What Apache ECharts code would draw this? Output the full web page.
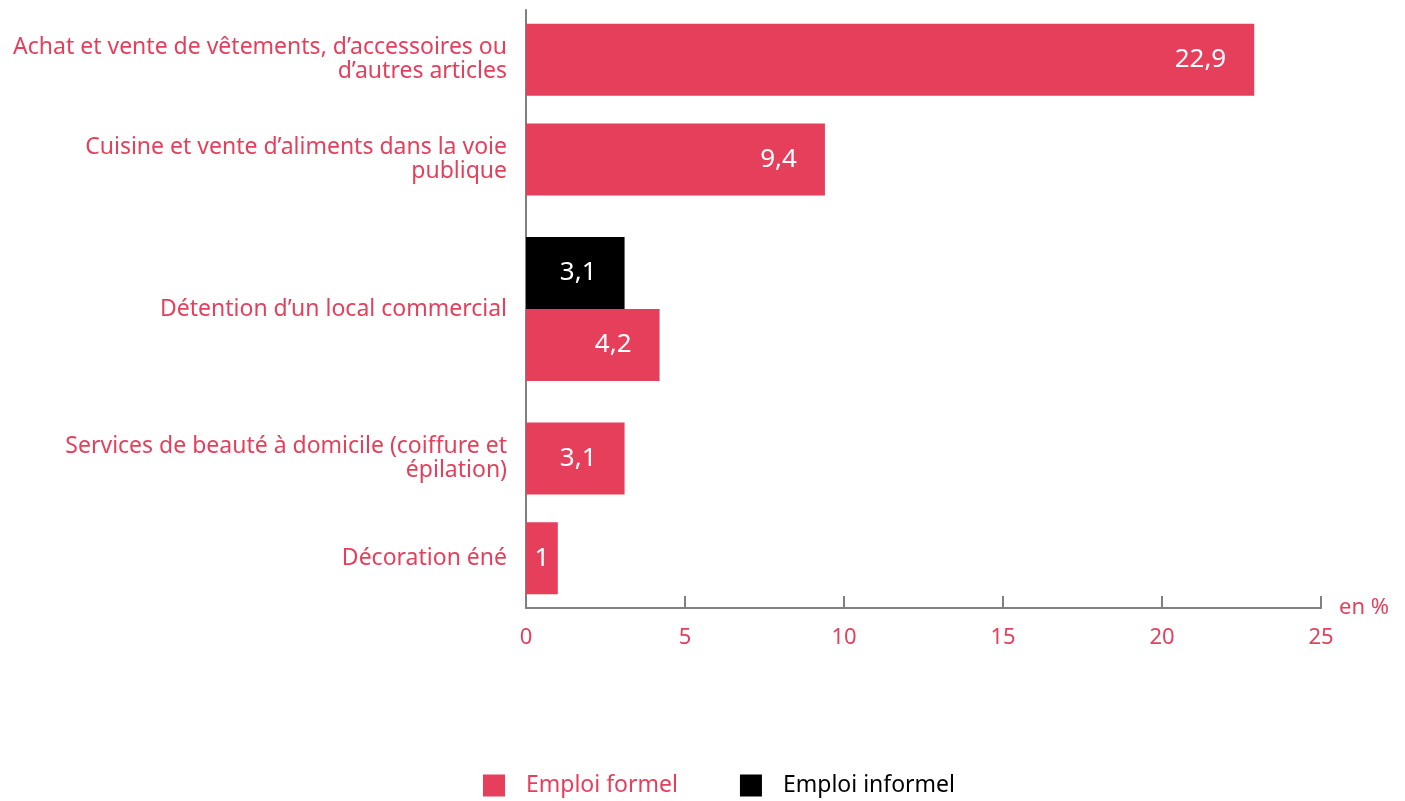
<!DOCTYPE html>
<html>
<head>
<meta charset="utf-8">
<script src="https://cdn.jsdelivr.net/npm/echarts@6/dist/echarts.min.js"></script>
<style>
  html, body { margin: 0; padding: 0; background: #ffffff; }
  #chart { width: 1405px; height: 801px; }
</style>
</head>
<body>
<div id="chart"></div>
<script>
// Activités et part des emplois (en %)
const categories = [
  "Achat et vente de vêtements, d’accessoires ou\nd’autres articles",
  "Cuisine et vente d’aliments dans la voie\npublique",
  "Détention d’un local commercial",
  "Services de beauté à domicile (coiffure et\népilation)",
  "Décoration éné"
];
const seriesNames = ["Emploi formel", "Emploi informel"];
const formel = [22.9, 9.4, 4.2, 3.1, 1];
const informel = [null, null, 3.1, null, null];

const RED = "#E53F5C";
const BLACK = "#000000";
const AXIS_GREY = "#808080";
const FONT = "Noto Sans";

// Each category takes one slot per bar it holds; its centre sits in the middle.
const centers = [];
let cursor = 0;
categories.forEach((c, i) => {
  const n = (formel[i] != null ? 1 : 0) + (informel[i] != null ? 1 : 0);
  centers.push(cursor + n / 2);
  cursor += n;
});
const totalSlots = cursor;
const labelByCenter = {};
centers.forEach((c, i) => { labelByCenter[c.toFixed(3)] = categories[i]; });

// side: 0 = centred on the category, -1 = upper bar, 1 = lower bar
const formelData = [];
const informelData = [];
categories.forEach((c, i) => {
  const both = formel[i] != null && informel[i] != null;
  if (formel[i] != null) formelData.push([formel[i], centers[i], both ? 1 : 0]);
  if (informel[i] != null) informelData.push([informel[i], centers[i], both ? -1 : 0]);
});

function makeRenderer(color) {
  return function (params, api) {
    const val = api.value(0);
    const yc = api.value(1);
    const side = api.value(2);
    const slot = api.size([0, 1])[1];
    const h = slot * 0.722;
    const p0 = api.coord([0, yc]);
    const p1 = api.coord([val, yc]);
    const top = side === 0 ? p0[1] - h / 2 : (side < 0 ? p0[1] - h : p0[1]);
    const w = p1[0] - p0[0];
    const narrow = w < 80;
    return {
      type: "group",
      children: [
        { type: "rect", shape: { x: p0[0], y: top, width: w, height: h }, style: { fill: color } },
        {
          type: "text",
          style: {
            text: String(val).replace(".", ","),
            x: narrow ? p0[0] + w / 2 : p1[0] - 28,
            y: top + h / 2,
            align: narrow ? "center" : "right",
            verticalAlign: "middle",
            fill: "#ffffff",
            font: "26px '" + FONT + "'"
          }
        }
      ]
    };
  };
}

const chart = echarts.init(document.getElementById("chart"), null, { renderer: "canvas" });
chart.setOption({
  animation: false,
  backgroundColor: "#ffffff",
  textStyle: { fontFamily: FONT },
  grid: { left: 526, right: 84, top: 10, bottom: 193, containLabel: false },
  legend: {
    left: 483,
    top: 774,
    padding: 0,
    icon: "rect",
    itemWidth: 22,
    itemHeight: 22,
    itemGap: 62,
    textStyle: { fontSize: 23, fontFamily: FONT, padding: [0, 0, 0, 16] },
    data: [
      { name: seriesNames[0], textStyle: { color: RED } },
      { name: seriesNames[1], textStyle: { color: BLACK } }
    ]
  },
  xAxis: {
    type: "value",
    min: 0,
    max: 25,
    interval: 5,
    name: "en %",
    nameLocation: "end",
    nameGap: 18,
    nameTextStyle: { color: RED, fontSize: 22, fontFamily: FONT, verticalAlign: "middle" },
    axisLine: { show: true, onZero: false, lineStyle: { color: AXIS_GREY, width: 2 } },
    axisTick: { show: true, inside: true, length: 12, lineStyle: { color: AXIS_GREY, width: 2 } },
    axisLabel: { color: RED, fontSize: 22, fontFamily: FONT, margin: 19 },
    splitLine: { show: false }
  },
  yAxis: {
    type: "value",
    inverse: true,
    min: 0,
    max: totalSlots,
    axisLine: { show: true, onZero: false, lineStyle: { color: AXIS_GREY, width: 2 } },
    axisTick: { show: false },
    splitLine: { show: false },
    axisLabel: {
      customValues: centers,
      formatter: v => labelByCenter[Number(v).toFixed(3)] || "",
      color: RED,
      fontSize: 23,
      lineHeight: 24,
      fontFamily: FONT,
      margin: 19,
      align: "right"
    }
  },
  series: [
    {
      name: seriesNames[0],
      type: "custom",
      itemStyle: { color: RED },
      encode: { x: 0, y: 1 },
      renderItem: makeRenderer(RED),
      data: formelData
    },
    {
      name: seriesNames[1],
      type: "custom",
      itemStyle: { color: BLACK },
      encode: { x: 0, y: 1 },
      renderItem: makeRenderer(BLACK),
      data: informelData
    }
  ]
});
</script>
</body>
</html>
